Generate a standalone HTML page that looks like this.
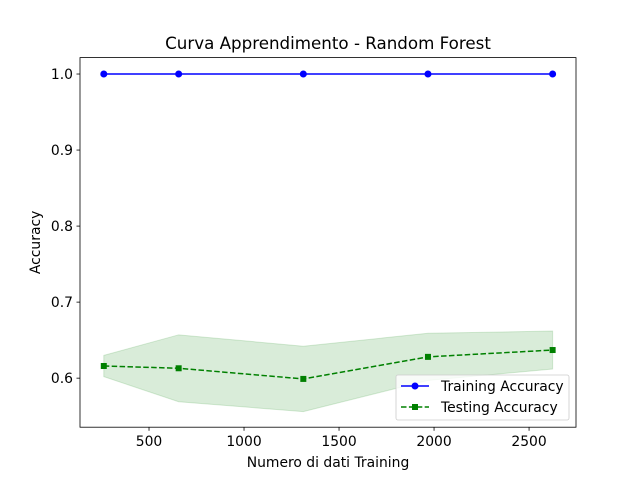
<!DOCTYPE html>
<html><head><meta charset="utf-8"><style>
body{margin:0;background:#fff;}
svg{font-family:"DejaVu Sans","Liberation Sans",sans-serif;}
</style></head><body>
<svg id="chart" width="640" height="480" xmlns="http://www.w3.org/2000/svg">
<rect width="640" height="480" fill="#fff"/>
<g id="plot"></g>
</svg>
<script>
const trainSizes=[262,656,1312,1968,2624];
const trainAcc=[1.0,1.0,1.0,1.0,1.0];
const testAcc=[0.616,0.613,0.599,0.628,0.637];
const testUpper=[0.630,0.657,0.642,0.659,0.662];
const testLower=[0.602,0.569,0.556,0.597,0.612];
const xTicks=[500,1000,1500,2000,2500];
const yTicks=[0.6,0.7,0.8,0.9,1.0];

const L=80,R=576,T=57.6,B=427.2;
const xMin=136.8,xMax=2747,yMin=0.5355,yMax=1.0216;
const X=v=>L+(v-xMin)/(xMax-xMin)*(R-L);
const Y=v=>B-(v-yMin)/(yMax-yMin)*(B-T);
const NS="http://www.w3.org/2000/svg";
const g=document.getElementById('plot');
function mk(tag,attrs,parent){const e=document.createElementNS(NS,tag);for(const k in attrs)e.setAttribute(k,attrs[k]);(parent||g).appendChild(e);return e;}

let d='';trainSizes.forEach((s,i)=>{d+=(i?'L':'M')+X(s)+','+Y(testUpper[i]);});
for(let i=trainSizes.length-1;i>=0;i--)d+='L'+X(trainSizes[i])+','+Y(testLower[i]);
const band=mk('path',{d:d+'Z',fill:'green','fill-opacity':0.15,stroke:'green','stroke-opacity':0.15});



const tl=mk('polyline',{points:trainSizes.map((s,i)=>X(s)+','+Y(trainAcc[i])).join(' '),fill:'none',stroke:'blue','stroke-width':1.5});


trainSizes.forEach((s,i)=>{const c=mk('circle',{cx:X(s),cy:Y(trainAcc[i]),r:3.5,fill:'blue'});

});

const sl=mk('polyline',{points:trainSizes.map((s,i)=>X(s)+','+Y(testAcc[i])).join(' '),fill:'none',stroke:'green','stroke-width':1.5,'stroke-dasharray':'5.5,2.4'});


trainSizes.forEach((s,i)=>{const r=mk('rect',{x:X(s)-3,y:Y(testAcc[i])-3,width:6,height:6,fill:'green'});

});

const fr=mk('rect',{x:L,y:T,width:R-L,height:B-T,fill:'none',stroke:'#000','stroke-width':0.8});



xTicks.forEach(t=>{mk('line',{x1:X(t),x2:X(t),y1:B,y2:B+3.5,stroke:'#000','stroke-width':0.8});
const tx=mk('text',{x:X(t),y:B+19,'text-anchor':'middle','font-size':13.9});tx.textContent=t;

});
yTicks.forEach(t=>{mk('line',{x1:L-3.5,x2:L,y1:Y(t),y2:Y(t),stroke:'#000','stroke-width':0.8});
const tx=mk('text',{x:L-7,y:Y(t)+5,'text-anchor':'end','font-size':13.9});tx.textContent=t.toFixed(1);

});

const xt=mk('text',{x:(L+R)/2,y:467,'text-anchor':'middle','font-size':13.9});xt.textContent='Numero di dati Training';


const yt=mk('text',{x:0,y:0,'text-anchor':'middle','font-size':13.9,transform:'translate(40,'+((T+B)/2)+') rotate(-90)'});yt.textContent='Accuracy';


const ti=mk('text',{x:(L+R)/2,y:49,'text-anchor':'middle','font-size':16.7});ti.textContent='Curva Apprendimento - Random Forest';



const lg=mk('g',{});


mk('rect',{x:396,y:375,width:173,height:45,rx:2,fill:'#fff','fill-opacity':0.8,stroke:'#ccc','stroke-width':0.8},lg);
mk('line',{x1:401,x2:429,y1:386,y2:386,stroke:'blue','stroke-width':1.5},lg);
mk('circle',{cx:415,cy:386,r:3.5,fill:'blue'},lg);
const l1=mk('text',{x:441,y:391,'font-size':13.9},lg);l1.textContent='Training Accuracy';


mk('line',{x1:401,x2:429,y1:407,y2:407,stroke:'green','stroke-width':1.5,'stroke-dasharray':'5.5,2.4'},lg);
mk('rect',{x:412,y:404,width:6,height:6,fill:'green'},lg);
const l2=mk('text',{x:441,y:412,'font-size':13.9},lg);l2.textContent='Testing Accuracy';


</script>
</body></html>
